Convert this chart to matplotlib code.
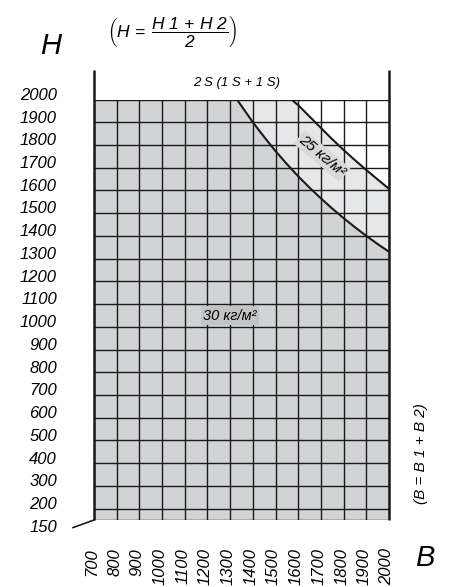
import matplotlib
matplotlib.use("Agg")
import matplotlib.pyplot as plt
import matplotlib.transforms as mtransforms
import numpy as np

# ---- data ----
b_ticks = [700, 800, 900, 1000, 1100, 1200, 1300, 1400, 1500, 1600, 1700, 1800, 1900, 2000]
h_ticks = [200, 300, 400, 500, 600, 700, 800, 900, 1000, 1100, 1200, 1300, 1400, 1500,
           1600, 1700, 1800, 1900, 2000]
h_min = 150
# boundary of 30 kg/m2 zone
b30 = [1330, 1400, 1450, 1500, 1550, 1600, 1650, 1700, 1750, 1800, 1850, 1900, 1950, 2000]
h30 = [2000, 1900, 1835, 1773, 1716, 1662, 1612, 1565, 1520, 1478, 1438, 1400, 1364, 1330]
# boundary of 25 kg/m2 zone
b25 = [1570, 1600, 1650, 1700, 1750, 1800, 1850, 1900, 1950, 2000]
h25 = [2000, 1975, 1925, 1875, 1825, 1778, 1733, 1690, 1648, 1607]
label30 = "30 кг/м²"
label25 = "25 кг/м²"

plt.rcParams['mathtext.fontset'] = 'custom'
plt.rcParams['mathtext.it'] = 'Liberation Sans:italic'
plt.rcParams['mathtext.rm'] = 'Liberation Sans:italic'
plt.rcParams['mathtext.sf'] = 'Liberation Sans:italic'

FONT = ['Liberation Sans', 'DejaVu Sans']

W, H = 451, 587
fig = plt.figure(figsize=(W / 100, H / 100), dpi=100)
x0, x1 = 94, 389
y_top, y_bot = 99.5, 520
ax = fig.add_axes([x0 / W, (H - y_bot) / H, (x1 - x0) / W, (y_bot - y_top) / H])
ax.set_xlim(b_ticks[0], b_ticks[-1])
ax.set_ylim(h_min, h_ticks[-1])
ax.axis('off')

c30 = '#d2d3d5'
c25 = '#e6e7e8'

# zones
bx = [b_ticks[0], b_ticks[0]] + b30 + [b_ticks[-1]]
hy = [h_min, h_ticks[-1]] + h30 + [h_min]
ax.fill(bx, hy, color=c30, lw=0, zorder=1)
bx2 = b30 + b25[::-1]
hy2 = h30 + h25[::-1]
ax.fill(bx2, hy2, color=c25, lw=0, zorder=1)

# grid
for b in b_ticks:
    ax.plot([b, b], [h_min, h_ticks[-1]], color='#1a1a1a', lw=1.0, zorder=3,
            solid_capstyle='butt')
for h in [h_min] + h_ticks:
    ax.plot([b_ticks[0], b_ticks[-1]], [h, h], color='#1a1a1a', lw=1.0, zorder=3,
            solid_capstyle='butt')

# outer verticals extending above the grid
ext = h_ticks[-1] + 29.5 / ((y_bot - y_top) / (h_ticks[-1] - h_min))
for b in (b_ticks[0], b_ticks[-1]):
    ax.plot([b, b], [h_min, ext], color='#1a1a1a', lw=1.8, zorder=4, clip_on=False,
            solid_capstyle='butt')

# boundary curves
ax.plot(b30, h30, color='#1a1a1a', lw=1.5, zorder=4)
ax.plot(b25, h25, color='#1a1a1a', lw=1.5, zorder=4)

# zone labels
ax.text(1300, 1049, label30, fontsize=10.5, style='italic', family=FONT,
        ha='center', va='center', zorder=5,
        bbox=dict(boxstyle='square,pad=0.15', fc='#c3c4c6', ec='none'))
ax.text(1705, 1752, label25, fontsize=11, style='italic', family=FONT,
        ha='center', va='center', rotation=-40, rotation_mode='anchor', zorder=5,
        bbox=dict(boxstyle='square,pad=0.12', fc='#d9d9da', ec='none'))

# header text
ax.text((b_ticks[0] + b_ticks[-1]) / 2 - 20, h_ticks[-1] + 72, "2 S (1 S + 1 S)",
        fontsize=9.5, style='italic', family=FONT, ha='center', va='center',
        clip_on=False)

# y tick labels
up = mtransforms.offset_copy(ax.transData, fig=fig, x=0, y=3, units='points')
for h in h_ticks:
    ax.text(b_ticks[0] - 37 * (1300 / 295), h, str(h), fontsize=12, style='italic',
            family=FONT, ha='right', va='center', transform=up, clip_on=False)
down = mtransforms.offset_copy(ax.transData, fig=fig, x=0, y=-5.5, units='points')
ax.text(b_ticks[0] - 37 * (1300 / 295), h_min, str(h_min), fontsize=12, style='italic',
        family=FONT, ha='right', va='center', transform=down, clip_on=False)
# slanted leader for 150
ax.plot([b_ticks[0] - 21 * (1300 / 295), b_ticks[0]],
        [h_min - 7.6 * (1850 / 420.5), h_min], color='#1a1a1a', lw=1.2,
        clip_on=False, zorder=4)

# x tick labels
for b in b_ticks:
    x_pix = x0 + (b - b_ticks[0]) * (x1 - x0) / 1300 - 2
    fig.text(x_pix / W, (H - 548) / H, str(b), fontsize=12, style='italic',
             family=FONT, rotation=90, ha='center', va='top')

# axis letters
fig.text(51 / W, (H - 46) / H, "H", fontsize=21, style='italic', family=FONT,
         ha='center', va='center')
fig.text(425 / W, (H - 558) / H, "B", fontsize=21, style='italic', family=FONT,
         ha='center', va='center')

# formulas
fig.text(172 / W, (H - 31) / H, r'$\left(H\,=\;\dfrac{H\ 1\,+\,H\ 2}{2}\right)$',
         fontsize=12.5, ha='center', va='center')
fig.text(421 / W, (H - 454) / H, "(B = B 1 + B 2)", fontsize=11, style='italic',
         family=FONT, rotation=90, ha='center', va='center')

fig.savefig("out.png", dpi=100)
